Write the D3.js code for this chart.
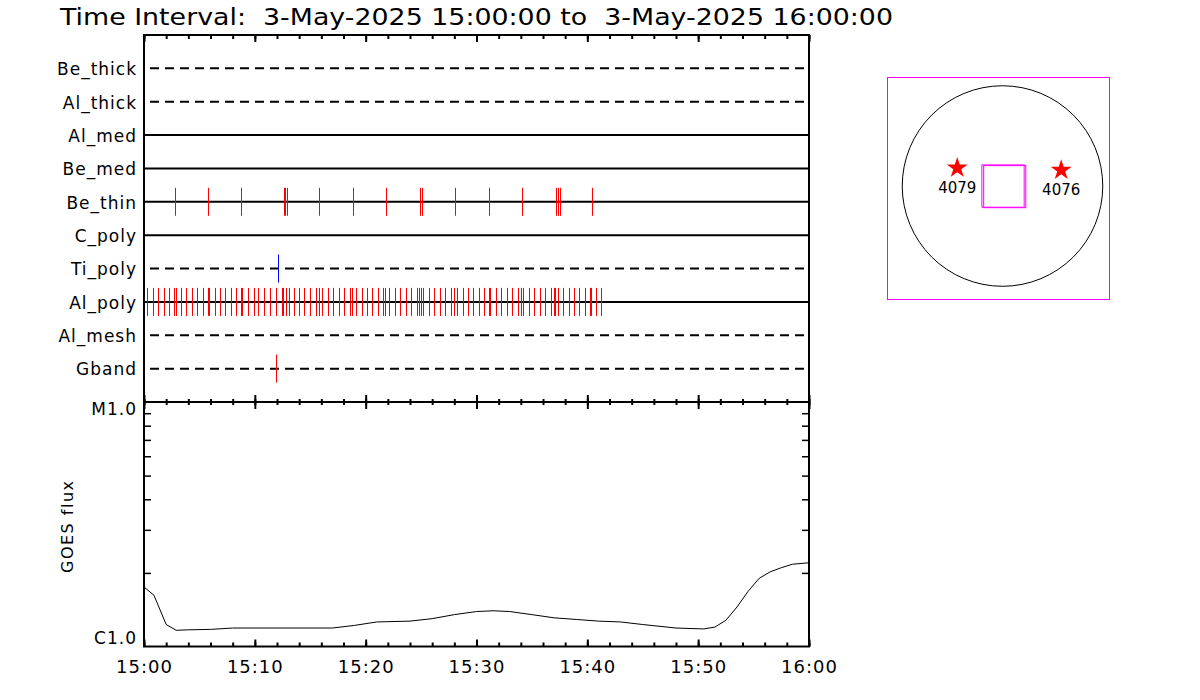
<!DOCTYPE html>
<html>
<head>
<meta charset="utf-8">
<script src="https://cdn.jsdelivr.net/npm/d3@7"></script>
<style>
  html, body { margin: 0; padding: 0; background: #fff; }
  text { font-family: "DejaVu Sans", sans-serif; fill: #000; }
  .pre { white-space: pre; }
</style>
</head>
<body>
<svg id="chart" width="1200" height="700"></svg>
<script>
// ---------------- data ----------------
const titleText = "Time Interval:  3-May-2025 15:00:00 to  3-May-2025 16:00:00";
const startTime = "2025-05-03T15:00:00Z";
const endTime = "2025-05-03T16:00:00Z";

const detectors = ["Be_thick", "Al_thick", "Al_med", "Be_med", "Be_thin",
                   "C_poly", "Ti_poly", "Al_poly", "Al_mesh", "Gband"];
// solid line = filter available in this interval, dashed = not
const detectorAvailable = [false, false, true, true, true, true, false, true, false, false];

// observation times, minutes after 15:00
const beThinTimes = [2.83, 5.81, 8.79, 12.59, 12.70, 12.86, 15.79, 18.82, 21.80,
                     24.94, 25.07, 28.04, 31.11, 34.09, 37.20, 37.35, 37.53, 40.42];
const tiPolyTimes = [12.05];
const gbandTimes = [11.87];
const alPolyTimes = [0.30, 0.84, 1.29, 1.81, 2.29, 2.74, 2.89, 3.37, 3.82, 4.34,
  4.82, 5.33, 5.76, 5.90, 6.39, 6.87, 7.35, 7.86, 8.34, 8.76, 8.88, 9.40, 9.88,
  10.33, 10.87, 11.41, 11.95, 12.41, 12.50, 12.80, 13.10, 13.55, 14.03, 14.48,
  15.00, 15.48, 15.75, 16.02, 16.56, 17.01, 17.56, 18.07, 18.55, 18.73, 19.09,
  19.64, 20.12, 20.54, 21.08, 21.53, 21.71, 22.07, 22.62, 23.07, 23.61, 24.06,
  24.60, 24.79, 25.02, 25.14, 25.69, 26.14, 26.68, 27.13, 27.68, 27.95, 28.22,
  28.76, 29.21, 29.66, 30.21, 30.66, 31.11, 31.26, 31.74, 32.20, 32.74, 33.19,
  33.73, 34.00, 34.18, 34.73, 35.18, 35.72, 36.17, 36.71, 36.98, 37.11, 37.35,
  37.80, 38.34, 38.79, 39.24, 39.79, 40.22, 40.32, 40.78, 41.23];

// GOES flux (W/m^2) vs minutes after 15:00
const goesMinutes = [0, 0.9, 2.0, 2.9, 4.0, 6.0, 8.0, 12.0, 17.0, 19.0, 21.0, 24.0,
  26.0, 28.0, 30.0, 31.5, 33.0, 35.0, 37.0, 39.0, 41.0, 43.0, 45.0, 48.0, 50.5,
  51.5, 52.5, 53.5, 54.5, 55.5, 56.5, 57.5, 58.5, 60.0];
const goesFlux = [1.75e-6, 1.62e-6, 1.23e-6, 1.165e-6, 1.17e-6, 1.175e-6, 1.19e-6,
  1.19e-6, 1.19e-6, 1.22e-6, 1.26e-6, 1.27e-6, 1.30e-6, 1.35e-6, 1.39e-6, 1.40e-6,
  1.39e-6, 1.35e-6, 1.31e-6, 1.29e-6, 1.27e-6, 1.26e-6, 1.23e-6, 1.19e-6, 1.18e-6,
  1.20e-6, 1.28e-6, 1.45e-6, 1.68e-6, 1.90e-6, 2.02e-6, 2.10e-6, 2.17e-6, 2.20e-6];
const goesClassValues = [1e-6, 1e-5];
const goesClassLabels = ["C1.0", "M1.0"];
const goesMinorTicks = [2e-6, 3e-6, 4e-6, 5e-6, 6e-6, 7e-6, 8e-6, 9e-6];

// solar disk inset (arcsec)
const solarRadius = 953;
const regionNumbers = ["4079", "4076"];
const regionX = [-430, 558];
const regionY = [181, 160];
const fovCenterX = [5, 21];
const fovCenterY = [0, -6];
const fovSize = [402, 400];

// ---------------- drawing ----------------
const svg = d3.select("#chart");
const t0 = new Date(startTime), t1 = new Date(endTime);
const toDate = m => new Date(t0.getTime() + m * 60000);

const x = d3.scaleUtc().domain([t0, t1]).range([144, 809]);
const upperTop = 35, upperBottom = 402, lowerBottom = 646.5;
const yRow = d3.scalePoint().domain(detectors).range([upperTop, upperBottom]).padding(1);
const yFlux = d3.scaleLog().domain([1e-6, 1e-5]).range([lowerBottom, upperBottom]);

// title
svg.append("text")
  .attr("class", "pre")
  .attr("xml:space", "preserve")
  .attr("x", 60).attr("y", 25)
  .attr("font-size", 23)
  .attr("textLength", 833).attr("lengthAdjust", "spacingAndGlyphs")
  .text(titleText);

// detector rows
const rows = svg.append("g");
detectors.forEach((d, i) => {
  rows.append("line")
    .attr("x1", x.range()[0]).attr("x2", x.range()[1])
    .attr("y1", yRow(d)).attr("y2", yRow(d))
    .attr("stroke", "#000").attr("stroke-width", 2)
    .attr("stroke-dasharray", detectorAvailable[i] ? null : "9,6")
    .attr("stroke-dashoffset", detectorAvailable[i] ? null : -6);
  rows.append("text")
    .attr("x", 137).attr("y", yRow(d)).attr("dy", "0.4em")
    .attr("text-anchor", "end").attr("font-size", 17)
    .attr("letter-spacing", 1)
    .text(d);
});

// event ticks
const events = [
  {det: "Be_thin", times: beThinTimes, color: "#ff0000"},
  {det: "Ti_poly", times: tiPolyTimes, color: "#0000ff"},
  {det: "Al_poly", times: alPolyTimes, color: "#ff0000"},
  {det: "Gband", times: gbandTimes, color: "#ff0000"}
];
events.forEach(ev => {
  svg.append("g").selectAll("line").data(ev.times).join("line")
    .attr("x1", m => Math.round(x(toDate(m))) + 0.5)
    .attr("x2", m => Math.round(x(toDate(m))) + 0.5)
    .attr("y1", yRow(ev.det) - 14).attr("y2", yRow(ev.det) + 14)
    .attr("stroke", ev.color).attr("stroke-width", 1);
});

// time axes (ticks only)
function timeTicks(axisFn, y, size, every) {
  svg.append("g").attr("transform", `translate(0,${y})`)
    .call(axisFn(x).ticks(every).tickSize(size).tickFormat(""))
    .call(g => g.select(".domain").remove())
    .call(g => g.selectAll("line").attr("stroke", "#000").attr("stroke-width", 2));
}
const minor = d3.utcMinute.every(2), major = d3.utcMinute.every(10);
// top of upper panel (inward = down)
timeTicks(d3.axisBottom, upperTop, 4, minor);
timeTicks(d3.axisBottom, upperTop, 7, major);
// separator: up into upper panel, down into lower panel
timeTicks(d3.axisTop, upperBottom, 3, minor);
timeTicks(d3.axisTop, upperBottom, 7, major);
timeTicks(d3.axisBottom, upperBottom, 3, minor);
timeTicks(d3.axisBottom, upperBottom, 7, major);
// bottom of lower panel (inward = up)
timeTicks(d3.axisTop, lowerBottom, 4, minor);
timeTicks(d3.axisTop, lowerBottom, 7, major);

// bottom time labels
svg.append("g").attr("transform", `translate(0,${lowerBottom})`)
  .call(d3.axisBottom(x).ticks(major).tickSize(0).tickPadding(14)
        .tickFormat(d3.utcFormat("%H:%M")))
  .call(g => g.select(".domain").remove())
  .call(g => g.selectAll("text").attr("font-size", 18).attr("letter-spacing", 1)
        .attr("font-family", "DejaVu Sans").attr("fill", "#000"));

// GOES flux log ticks
svg.append("g").attr("transform", `translate(${x.range()[0]},0)`)
  .call(d3.axisRight(yFlux).tickValues(goesMinorTicks).tickSize(7).tickFormat(""))
  .call(g => g.select(".domain").remove())
  .call(g => g.selectAll("line").attr("stroke", "#000").attr("stroke-width", 1.5));
svg.append("g").attr("transform", `translate(${x.range()[1]},0)`)
  .call(d3.axisLeft(yFlux).tickValues(goesMinorTicks).tickSize(7).tickFormat(""))
  .call(g => g.select(".domain").remove())
  .call(g => g.selectAll("line").attr("stroke", "#000").attr("stroke-width", 1.5));
goesClassValues.forEach((v, i) => {
  svg.append("text")
    .attr("x", 137).attr("y", yFlux(v))
    .attr("dy", i === 0 ? "-0.15em" : "0.75em")
    .attr("text-anchor", "end").attr("font-size", 17).attr("letter-spacing", 1)
    .attr("fill", "#000")
    .text(goesClassLabels[i]);
});
svg.append("text")
  .attr("transform", `translate(73,${(upperBottom + lowerBottom) / 2 + 2}) rotate(-90)`)
  .attr("text-anchor", "middle").attr("font-size", 16).attr("letter-spacing", 1.5)
  .text("GOES flux");

// GOES curve
const line = d3.line().x(d => x(toDate(d[0]))).y(d => yFlux(d[1]));
svg.append("path")
  .datum(goesMinutes.map((m, i) => [m, goesFlux[i]]))
  .attr("d", line).attr("fill", "none").attr("stroke", "#000").attr("stroke-width", 1);

// frames
svg.append("rect")
  .attr("x", x.range()[0]).attr("y", upperTop)
  .attr("width", x.range()[1] - x.range()[0]).attr("height", lowerBottom - upperTop)
  .attr("fill", "none").attr("stroke", "#000").attr("stroke-width", 2);
svg.append("line")
  .attr("x1", x.range()[0]).attr("x2", x.range()[1])
  .attr("y1", upperBottom).attr("y2", upperBottom)
  .attr("stroke", "#000").attr("stroke-width", 2);

// ---------------- solar inset ----------------
const sx = d3.scaleLinear().domain([-1093, 1017]).range([887.5, 1109.5]);
const sy = d3.scaleLinear().domain([1031, -1078]).range([77.5, 299.5]);
const inset = svg.append("g");
inset.append("rect")
  .attr("x", sx.range()[0]).attr("y", sy.range()[0])
  .attr("width", sx.range()[1] - sx.range()[0]).attr("height", sy.range()[1] - sy.range()[0])
  .attr("fill", "none").attr("stroke", "#ff00ff").attr("stroke-width", 1);
inset.append("circle")
  .attr("cx", sx(0)).attr("cy", sy(0))
  .attr("r", sx(solarRadius) - sx(0))
  .attr("fill", "none").attr("stroke", "#000").attr("stroke-width", 1);
fovCenterX.forEach((cx, i) => {
  inset.append("rect")
    .attr("x", sx(cx - fovSize[i] / 2)).attr("y", sy(fovCenterY[i] + fovSize[i] / 2))
    .attr("width", sx(cx + fovSize[i] / 2) - sx(cx - fovSize[i] / 2))
    .attr("height", sy(fovCenterY[i] - fovSize[i] / 2) - sy(fovCenterY[i] + fovSize[i] / 2))
    .attr("fill", "none").attr("stroke", "#ff00ff").attr("stroke-width", 1);
});
const star = d3.symbol().type(d3.symbolStar).size(135);
regionNumbers.forEach((n, i) => {
  inset.append("path")
    .attr("d", star)
    .attr("transform", `translate(${sx(regionX[i])},${sy(regionY[i]) + 1})`)
    .attr("fill", "#ff0000");
  inset.append("text")
    .attr("x", sx(regionX[i])).attr("y", sy(regionY[i]) + 26)
    .attr("text-anchor", "middle").attr("font-size", 15)
    .text(n);
});
</script>
</body>
</html>
